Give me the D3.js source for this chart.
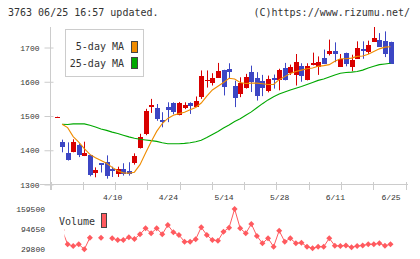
<!DOCTYPE html>
<html lang="en">
  <head>
    <meta charset="UTF-8" />
    <script src="https://d3js.org/d3.v7.min.js"></script>
    <title>3763 chart</title>
    <style type="text/css">
      body {
        margin: 0;
        background: #fff;
      }
      .head-text {
        fill: #333;
        font-size: 10px;
        font-family: 'DejaVu Sans Mono', monospace;
      }
      .tick text {
        fill: #333;
        font-size: 8px;
        font-family: 'Liberation Mono', monospace;
      }
      .legend-text {
        fill: #333;
        font-size: 10px;
        font-family: 'DejaVu Sans Mono', monospace;
      }
    </style>
  </head>
  <body>
    <svg width="420" height="259"></svg>
  </body>
  <script type="text/javascript">
    // candle data, one entry per trading day (index 0..60)
    const opens = [
      1496, 1425, 1391, 1394, 1414, 1385, 1385, 1333, 1362, 1365, 1346, 1331, 1346, 1340, 1362, 1409, 1448, 1524, 1524,
      1489, 1527, 1537, 1503, 1524, 1537, 1528, 1558, 1602, 1596, 1612, 1635, 1638, 1589, 1563, 1582, 1628, 1611, 1601,
      1574, 1610, 1604, 1640, 1625, 1618, 1647, 1604, 1648, 1643, 1669, 1683, 1691, 1643, 1685, 1643, 1667, 1696, 1685,
      1716, 1723, 1720, 1717,
    ];
    const highs = [
      1498, 1431, 1423, 1432, 1420, 1425, 1387, 1350, 1362, 1385, 1352, 1352, 1362, 1365, 1391, 1448, 1521, 1550, 1535,
      1511, 1540, 1540, 1541, 1540, 1540, 1557, 1633, 1633, 1625, 1655, 1635, 1654, 1603, 1613, 1623, 1647, 1628, 1620,
      1618, 1621, 1638, 1655, 1650, 1681, 1654, 1654, 1685, 1674, 1694, 1723, 1715, 1681, 1685, 1679, 1718, 1718, 1720,
      1764, 1742, 1747, 1717,
    ];
    const lows = [
      1496, 1394, 1370, 1394, 1380, 1383, 1324, 1321, 1335, 1317, 1322, 1322, 1326, 1326, 1358, 1405, 1444, 1509, 1486,
      1467, 1482, 1505, 1502, 1520, 1506, 1526, 1550, 1583, 1589, 1612, 1560, 1609, 1526, 1555, 1580, 1570, 1545, 1558,
      1569, 1580, 1575, 1604, 1620, 1589, 1600, 1604, 1648, 1620, 1652, 1677, 1657, 1643, 1645, 1631, 1667, 1667, 1681,
      1716, 1704, 1672, 1652,
    ];
    const closes = [
      1498, 1409, 1370, 1423, 1385, 1393, 1326, 1343, 1356, 1324, 1339, 1346, 1331, 1331, 1382, 1440, 1514, 1531, 1492,
      1482, 1518, 1511, 1539, 1533, 1528, 1545, 1618, 1606, 1612, 1631, 1586, 1628, 1553, 1596, 1615, 1599, 1557, 1581,
      1609, 1604, 1633, 1604, 1643, 1657, 1618, 1645, 1654, 1657, 1652, 1691, 1682, 1667, 1654, 1664, 1699, 1691, 1706,
      1728, 1704, 1682, 1652,
    ];
    // moving averages
    const ma5 = [
      null, 1476, 1466, 1440, 1424, 1405, 1388, 1378, 1370, 1362, 1350, 1340, 1334, 1333, 1336, 1358, 1392, 1425, 1455,
      1478, 1493, 1502, 1507, 1511, 1518, 1525, 1538, 1558, 1576, 1587, 1598, 1610, 1608, 1598, 1595, 1596, 1596, 1594,
      1592, 1592, 1606, 1615, 1624, 1630, 1634, 1638, 1640, 1645, 1647, 1650, 1660, 1667, 1667, 1669, 1674, 1675, 1680,
      1688, 1696, 1701, 1702,
    ];
    const ma25 = [
      null, 1476, 1475, 1477, 1477, 1477, 1473, 1468, 1462, 1458, 1453, 1449, 1444, 1439, 1435, 1432, 1430, 1428, 1426,
      1422, 1419, 1419, 1419, 1420, 1422, 1425, 1429, 1437, 1446, 1455, 1465, 1474, 1484, 1492, 1502, 1512, 1524, 1536,
      1547, 1556, 1564, 1570, 1576, 1581, 1586, 1592, 1598, 1604, 1608, 1614, 1620, 1625, 1627, 1628, 1630, 1634, 1640,
      1645, 1650, 1652, 1654,
    ];
    const volumes = [
      null, 90900, 44200, 38600, 44200, 27800, 65700, null, 65700, null, 63800, 58200, 58200, 67000, 61500, 76800, 96400,
      80100, 96400, 76800, 107200, 83400, 74600, 52700, 52700, 60500, 99700, 74600, 58200, 56000, 85300, 98400, 159500,
      96400, 80100, 110500, 71300, 47400, 63800, 36300, 88600, 52700, 63800, 47400, 49400, 36300, 31100, 36300, 36300,
      63800, 39600, 38600, 40400, 34400, 38600, 40400, 44200, 44200, 47400, 39600, 44200,
    ];
    const priceTicks = [1300, 1400, 1500, 1600, 1700];
    const volumeTicks = [29800, 94650, 159500];
    const dateLabelIdx = [10, 20, 30, 40, 50, 60];
    const dateLabels = ['4/10', '4/24', '5/14', '5/28', '6/11', '6/25'];

    const upColor = '#d80000';
    const downColor = '#3c46c4';
    const volColor = '#ff5a5f';

    const svg = d3.select('svg');
    const days = d3.range(opens.length);

    const x = d3.scaleLinear().domain([0, 60]).range([56.5, 390.5]);
    const y = d3.scaleLinear().domain([1300, 1700]).range([184.5, 47.5]);
    const yVol = d3.scaleLinear().domain([29800, 159500]).range([248.7, 209]);

    // header
    svg.append('text').attr('class', 'head-text').attr('x', 8).attr('y', 16).text('3763 06/25 16:57 updated.');
    svg
      .append('text')
      .attr('class', 'head-text')
      .attr('x', 410)
      .attr('y', 16)
      .attr('text-anchor', 'end')
      .text('(C)https://www.rizumu.net/');

    // clip for the price area
    const defs = svg.append('defs');
    defs.append('clipPath').attr('id', 'plot-clip').append('rect').attr('x', 50).attr('y', 27).attr('width', 360).attr('height', 158);
    defs.append('clipPath').attr('id', 'vol-clip').append('rect').attr('x', 64.5).attr('y', 200).attr('width', 345).attr('height', 59);

    // left axis
    const yAxis = svg
      .append('g')
      .attr('transform', 'translate(50.5,0)')
      .call(d3.axisLeft(y).tickValues(priceTicks).tickSize(6).tickPadding(5).tickFormat(d3.format('d')));
    yAxis.select('.domain').remove();
    yAxis.selectAll('.tick line').attr('stroke', '#ccc').attr('x2', 3).attr('x1', -6);
    svg.append('line').attr('x1', 50.5).attr('x2', 50.5).attr('y1', 27).attr('y2', 190).attr('stroke', '#ccc');

    // bottom axis: even divisions
    const xDiv = d3.scaleLinear().domain([0, 11]).range([50.5, 405.5]);
    svg.append('line').attr('x1', 40).attr('x2', 408).attr('y1', 184.5).attr('y2', 184.5).attr('stroke', '#ccc');
    svg
      .append('g')
      .selectAll('line')
      .data(d3.range(12))
      .join('line')
      .attr('x1', (d) => Math.round(xDiv(d)) + 0.5)
      .attr('x2', (d) => Math.round(xDiv(d)) + 0.5)
      .attr('y1', 182)
      .attr('y2', 190)
      .attr('stroke', '#ccc');

    // date labels
    const xAxis = svg
      .append('g')
      .attr('transform', 'translate(0,194)')
      .call(
        d3
          .axisBottom(x)
          .tickValues(dateLabelIdx)
          .tickSize(0)
          .tickPadding(0)
          .tickFormat((d, i) => dateLabels[i])
      );
    xAxis.select('.domain').remove();
    xAxis.selectAll('.tick text').attr('dy', '0.75em');

    // candles
    const candles = svg.append('g').attr('clip-path', 'url(#plot-clip)');
    const candle = candles.selectAll('g').data(days).join('g');
    candle
      .append('line')
      .attr('x1', (i) => Math.round(x(i)) + 0.5)
      .attr('x2', (i) => Math.round(x(i)) + 0.5)
      .attr('y1', (i) => y(highs[i]))
      .attr('y2', (i) => y(lows[i]))
      .attr('stroke', (i) => (closes[i] >= opens[i] ? upColor : downColor));
    candle
      .append('rect')
      .attr('x', (i) => Math.round(x(i)) - 2)
      .attr('width', 5)
      .attr('y', (i) => Math.round(y(Math.max(opens[i], closes[i]))))
      .attr('height', (i) => Math.max(1, Math.round(Math.abs(y(opens[i]) - y(closes[i])))))
      .attr('fill', (i) => (closes[i] >= opens[i] ? upColor : downColor));

    // moving averages
    const maLine = (arr) =>
      d3
        .line()
        .defined((i) => arr[i] != null)
        .x((i) => x(i))
        .y((i) => y(arr[i]));
    candles.append('path').attr('d', maLine(ma25)(days)).attr('fill', 'none').attr('stroke', '#00a800').attr('stroke-width', 1.1);
    candles.append('path').attr('d', maLine(ma5)(days)).attr('fill', 'none').attr('stroke', '#f08c00').attr('stroke-width', 1.1);

    // MA legend
    const legend = svg.append('g');
    legend.append('rect').attr('x', 65.5).attr('y', 29.5).attr('width', 78).attr('height', 47).attr('fill', '#fff').attr('stroke', '#ccc');
    const legendItems = [
      { label: '5-day MA', color: '#f08c00' },
      { label: '25-day MA', color: '#00a800' },
    ];
    legend
      .selectAll('text')
      .data(legendItems)
      .join('text')
      .attr('class', 'legend-text')
      .attr('x', 124)
      .attr('y', (d, i) => 50 + i * 17)
      .attr('text-anchor', 'end')
      .text((d) => d.label);
    legend
      .selectAll('.swatch')
      .data(legendItems)
      .join('rect')
      .attr('class', 'swatch')
      .attr('x', 131.5)
      .attr('y', (d, i) => 41.5 + i * 16)
      .attr('width', 6)
      .attr('height', 11)
      .attr('fill', (d) => d.color)
      .attr('stroke', '#444');

    // volume panel
    const volAxis = svg
      .append('g')
      .attr('transform', 'translate(45,0)')
      .call(d3.axisLeft(yVol).tickValues(volumeTicks).tickSize(0).tickPadding(0).tickFormat(d3.format('d')));
    volAxis.select('.domain').remove();

    const volG = svg.append('g').attr('clip-path', 'url(#vol-clip)');
    volG
      .append('path')
      .attr(
        'd',
        d3
          .line()
          .defined((i) => volumes[i] != null)
          .x((i) => x(i))
          .y((i) => yVol(volumes[i]))(days)
      )
      .attr('fill', 'none')
      .attr('stroke', volColor);
    volG
      .selectAll('path.pt')
      .data(days.filter((i) => volumes[i] != null))
      .join('path')
      .attr('class', 'pt')
      .attr('transform', (i) => `translate(${x(i)},${yVol(volumes[i])}) rotate(45)`)
      .attr('d', d3.symbol().type(d3.symbolSquare).size(18))
      .attr('fill', volColor);

    svg.append('text').attr('class', 'legend-text').attr('x', 59).attr('y', 225).text('Volume');
    svg.append('rect').attr('x', 101.5).attr('y', 213.5).attr('width', 5).attr('height', 14).attr('fill', volColor).attr('stroke', '#444');
  </script>
</html>
